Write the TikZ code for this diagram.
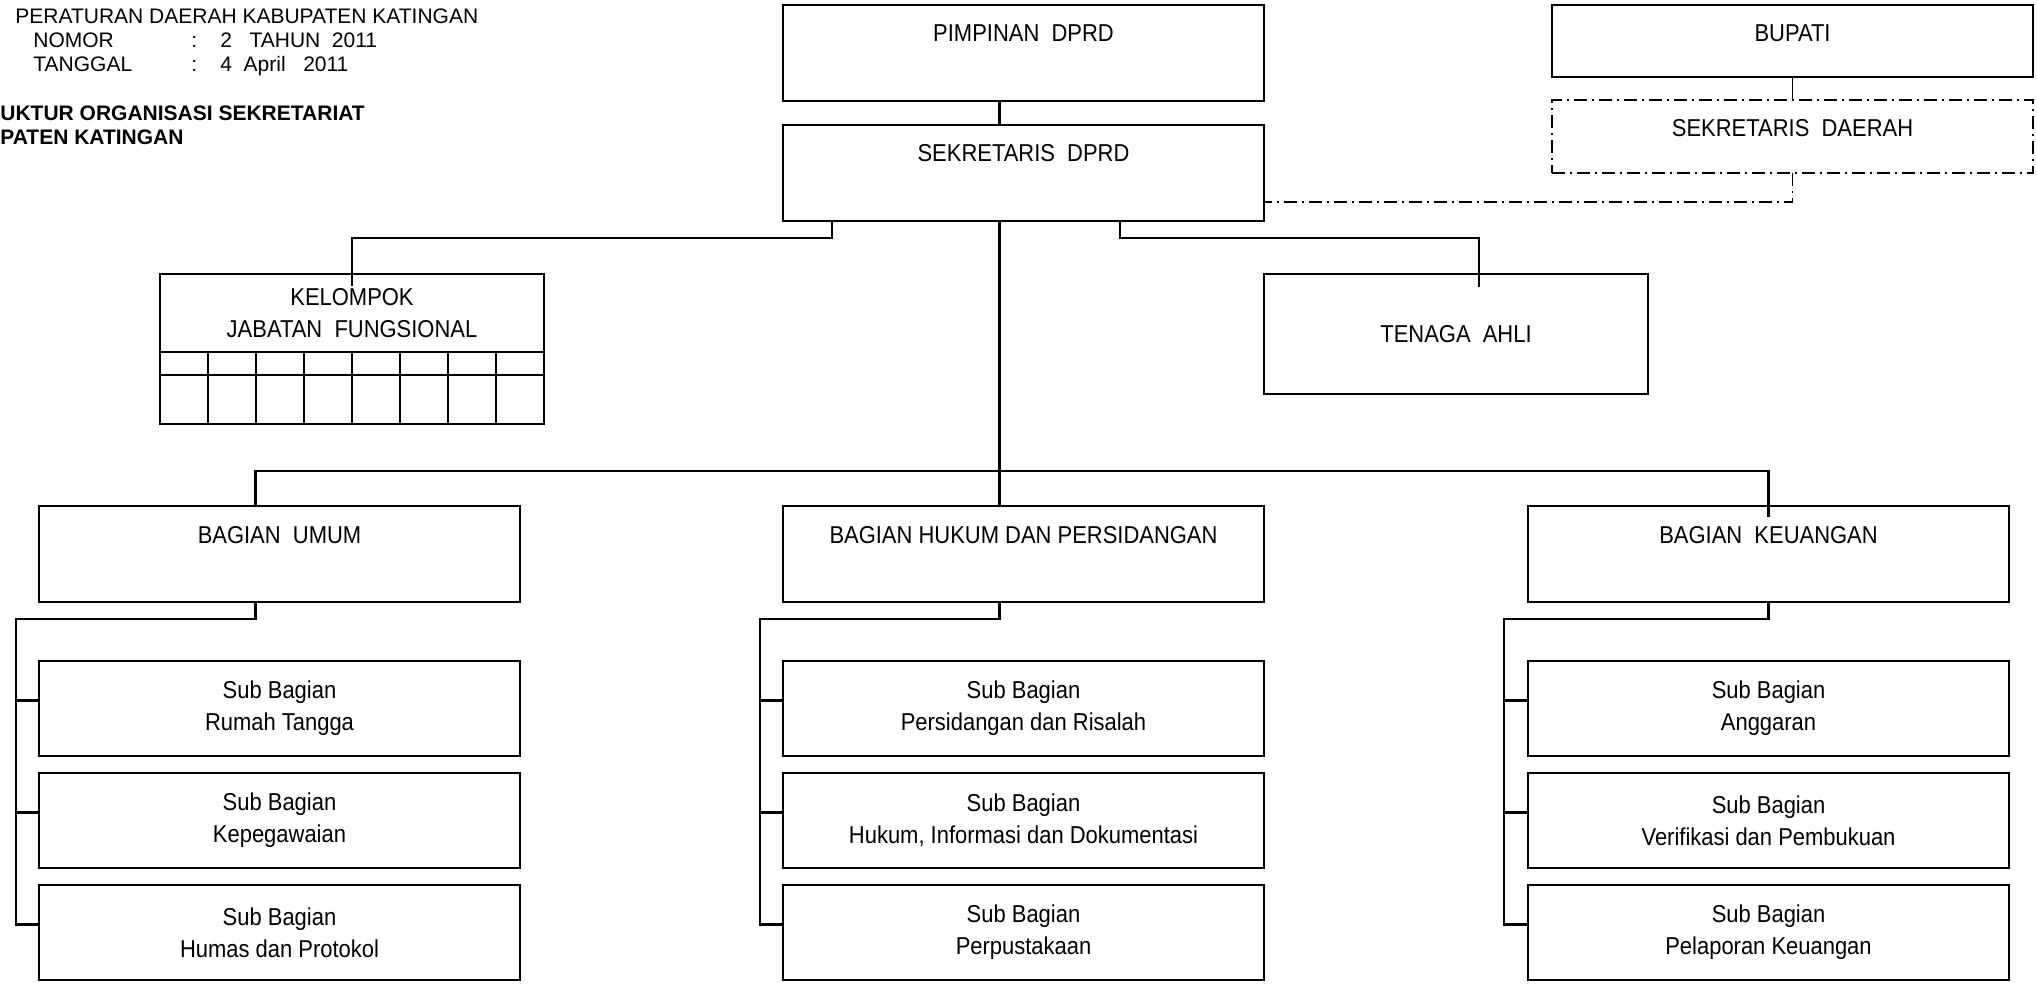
\documentclass[tikz,border=0pt]{standalone}
\usepackage{fontspec}
\setmainfont{Liberation Sans}
\newfontfamily\boxfont{Liberation Sans}[FakeStretch=0.9]
\usetikzlibrary{positioning}

\tikzset{
  unit/.style={draw, rectangle, line width=1.2pt, inner sep=0pt, outer sep=0pt,
    font=\boxfont\fontsize{12.2}{16}\selectfont},
  headbox/.style={unit, anchor=north west, minimum width=240.5pt, text height=18.5pt, text depth=29.5pt},
  lowbox/.style={unit, anchor=north west, minimum width=240.5pt, text height=18.5pt, text depth=17.5pt},
  subbox/.style={unit, align=center, minimum width=240.5pt, minimum height=47.5pt},
  sidebox/.style={unit, anchor=north west, align=center, minimum width=192pt},
  header/.style={anchor=base west, inner sep=0pt, font=\fontsize{10.5}{12}\selectfont},
  dashdot/.style={line width=0.9pt, dash pattern=on 6.5pt off 2.5pt on 1pt off 2.5pt}
}

\begin{document}
\begin{tikzpicture}[x=0.5pt, y=-0.5pt]
    \useasboundingbox (0,0) rectangle (2037,989);
    % Header text (top left)
    \node[header] (perda) at (15,24) {PERATURAN DAERAH KABUPATEN KATINGAN};
    \node[header] (nomor) at (33,48) {NOMOR};
    \node[header] (nomorsep) at (191,48) {:};
    \node[header] (nomorval) at (220,48) {2~~~TAHUN~~2011};
    \node[header] (tanggal) at (33,72) {TANGGAL};
    \node[header] (tanggalsep) at (191,72) {:};
    \node[header] (tanggalval) at (220,72) {4~~April~~~2011};
    \node[header, font=\fontsize{10.5}{12}\selectfont\bfseries] (judul1) at (0,121) {UKTUR ORGANISASI SEKRETARIAT};
    \node[header, font=\fontsize{10.5}{12}\selectfont\bfseries] (judul2) at (0,145) {PATEN KATINGAN};

    % Top Row (DPRD and Bupati)
    \node[headbox] (pimpinan) at (783,5) {PIMPINAN~~DPRD};
    \node[headbox, below=12pt of pimpinan] (sekdprd) {SEKRETARIS~~DPRD};
    \node[lowbox] (bupati) at (1552,5) {BUPATI};
    \node[lowbox, dashdot, below=11.5pt of bupati, text depth=18pt] (sekda) {SEKRETARIS~~DAERAH};

    % Middle Row (staff)
    \node[sidebox, minimum height=39pt] (kelompok) at (160,274) {KELOMPOK\\JABATAN~~FUNGSIONAL};
    \node[sidebox, minimum height=60pt] (tenaga) at (1264,274) {TENAGA~~AHLI};

    % Bottom Row (bagian)
    \node[headbox] (umum) at (39,506) {BAGIAN~~UMUM};
    \node[headbox] (hukum) at (783,506) {BAGIAN HUKUM DAN PERSIDANGAN};
    \node[headbox] (keu) at (1528,506) {BAGIAN~~KEUANGAN};

    % Sub bagian
    \node[subbox, below=29.5pt of umum] (umum1) {Sub Bagian\\Rumah Tangga};
    \node[subbox, below=8.5pt of umum1] (umum2) {Sub Bagian\\Kepegawaian};
    \node[subbox, below=8.5pt of umum2] (umum3) {Sub Bagian\\Humas dan Protokol};
    \node[subbox, below=29.5pt of hukum] (hukum1) {Sub Bagian\\Persidangan dan Risalah};
    \node[subbox, below=8.5pt of hukum1] (hukum2) {Sub Bagian\\Hukum, Informasi dan Dokumentasi};
    \node[subbox, below=8.5pt of hukum2] (hukum3) {Sub Bagian\\Perpustakaan};
    \node[subbox, below=29.5pt of keu] (keu1) {Sub Bagian\\Anggaran};
    \node[subbox, below=8.5pt of keu1] (keu2) {Sub Bagian\\Verifikasi dan Pembukuan};
    \node[subbox, below=8.5pt of keu2] (keu3) {Sub Bagian\\Pelaporan Keuangan};

    \begin{scope}[line width=1.2pt]
      % table under kelompok jabatan fungsional
      \draw (kelompok.south west) rectangle ([yshift=-36pt]kelompok.south east);
      \draw ([yshift=-11.5pt]kelompok.south west) -- ([yshift=-11.5pt]kelompok.south east);
      \foreach \i in {1,...,7}
        \draw ([xshift=\i*24pt]kelompok.south west) -- ++(0,72);
      % lines of command
      \draw ([xshift=-12pt]pimpinan.south) -- ([xshift=-12pt]sekdprd.north);
      \draw ([xshift=-12pt]sekdprd.south) -- ([xshift=-12pt]hukum.north);
      \draw ([xshift=-12pt]umum.north) -- ++(0,-35) -| ([yshift=-5.5pt]keu.north);
      \draw ([xshift=-95.75pt]sekdprd.south) -- ++(0,17) -| ([yshift=-6pt]kelompok.north);
      \draw ([xshift=48.25pt]sekdprd.south) -- ++(0,17) -| ([xshift=11.5pt,yshift=-6.5pt]tenaga.north);
      \draw [line width=0.9pt] (bupati.south) -- (sekda.north);
      \draw [dashdot] (sekda.south) |- ([yshift=-14.5pt]sekdprd.east);
      % brackets to the sub bagian
      \draw ([xshift=-12pt]umum.south) -- ++(0,17) -| ([xshift=-11.5pt,yshift=4pt]umum3.west) -- ([yshift=4pt]umum3.west);
      \draw ([yshift=4pt]umum1.west) -- ++(-23,0);
      \draw ([yshift=4pt]umum2.west) -- ++(-23,0);
      \draw ([xshift=-12pt]hukum.south) -- ++(0,17) -| ([xshift=-11.5pt,yshift=4pt]hukum3.west) -- ([yshift=4pt]hukum3.west);
      \draw ([yshift=4pt]hukum1.west) -- ++(-23,0);
      \draw ([yshift=4pt]hukum2.west) -- ++(-23,0);
      \draw (keu.south) -- ++(0,17) -| ([xshift=-12pt,yshift=4pt]keu3.west) -- ([yshift=4pt]keu3.west);
      \draw ([yshift=4pt]keu1.west) -- ++(-24,0);
      \draw ([yshift=4pt]keu2.west) -- ++(-24,0);
    \end{scope}
\end{tikzpicture}
\end{document}
